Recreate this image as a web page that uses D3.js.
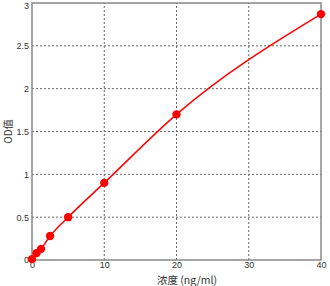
<!DOCTYPE html>
<html>
<head>
<meta charset="utf-8">
<script src="https://cdn.jsdelivr.net/npm/d3@7"></script>
<style>
  body { margin: 0; background: #fff; }
  svg { display: block; font-family: "Liberation Sans", Arial, sans-serif; }
  .tick text { fill: #333; font-size: 9px; }
  .grid line { stroke: #666; stroke-dasharray: 2,2; stroke-width: 1; }
</style>
</head>
<body>
<div id="chart"></div>
<script>
// standard curve: concentration (ng/ml) vs OD
const conc = [0, 0.625, 1.25, 2.5, 5, 10, 20, 40];
const od = [0.01, 0.08, 0.13, 0.28, 0.5, 0.9, 1.7, 2.87];
const xTicks = [0, 10, 20, 30, 40];
const yTicks = [0, 0.5, 1, 1.5, 2, 2.5, 3];

const w = 330;
const h = 286;
const margin = { left: 32, top: 3, right: 9, bottom: 26 };

const svg = d3.select('#chart')
  .append('svg')
  .attr('width', w)
  .attr('height', h);

const xScale = d3.scaleLinear()
  .domain([0, 40])
  .range([margin.left, w - margin.right]);
const yScale = d3.scaleLinear()
  .domain([0, 3])
  .range([h - margin.bottom, margin.top]);

// dotted gridlines
svg.append('g')
  .attr('class', 'grid')
  .selectAll('line.gx')
  .data(xTicks.slice(1, -1))
  .join('line')
  .attr('x1', (d) => xScale(d))
  .attr('x2', (d) => xScale(d))
  .attr('y1', yScale(0))
  .attr('y2', yScale(3));

svg.append('g')
  .attr('class', 'grid')
  .selectAll('line.gy')
  .data(yTicks.slice(1, -1))
  .join('line')
  .attr('x1', xScale(0))
  .attr('x2', xScale(40))
  .attr('y1', (d) => yScale(d))
  .attr('y2', (d) => yScale(d));

// axes
const xAxis = d3.axisBottom(xScale).tickValues(xTicks).tickSize(0).tickPadding(2);
const yAxis = d3.axisLeft(yScale).tickValues(yTicks).tickSize(0).tickPadding(3)
  .tickFormat(d3.format('~g'));

svg.append('g')
  .attr('transform', `translate(0,${yScale(0)})`)
  .call(xAxis)
  .call((g) => g.select('.domain').remove());
svg.append('g')
  .attr('transform', `translate(${xScale(0)},0)`)
  .call(yAxis)
  .call((g) => g.select('.domain').remove())
  // keep the top label inside the window
  .call((g) => g.selectAll('.tick text').filter((d) => d === 3).attr('dy', '0.6em'));

// frame
svg.append('rect')
  .attr('x', xScale(0))
  .attr('y', yScale(3))
  .attr('width', xScale(40) - xScale(0))
  .attr('height', yScale(0) - yScale(3))
  .attr('fill', 'none')
  .attr('stroke', '#888')
  .attr('stroke-width', 1.5);

// fitted curve
const points = conc.map((c, i) => [c, od[i]]);
svg.append('path')
  .datum(points)
  .attr('fill', 'none')
  .attr('stroke', '#f00')
  .attr('stroke-width', 1.5)
  .attr('d', d3.line()
    .curve(d3.curveMonotoneX)
    .x((d) => xScale(d[0]))
    .y((d) => yScale(d[1])));

svg.append('g')
  .selectAll('circle')
  .data(points)
  .join('circle')
  .attr('cx', (d) => xScale(d[0]))
  .attr('cy', (d) => yScale(d[1]))
  .attr('r', 4.2)
  .attr('fill', '#f00');

// axis labels
svg.append('text')
  .attr('x', 187)
  .attr('y', h - 2)
  .attr('text-anchor', 'middle')
  .attr('font-size', 10.5)
  .attr('font-family', '"Noto Sans CJK SC", sans-serif')
  .attr('fill', '#333')
  .text('浓度 (ng/ml)');

svg.append('text')
  .attr('transform', `translate(12,${(yScale(0) + yScale(3)) / 2}) rotate(-90)`)
  .attr('text-anchor', 'middle')
  .attr('font-size', 10)
  .attr('font-family', '"Noto Sans CJK SC", sans-serif')
  .attr('fill', '#333')
  .text('OD值');
</script>
</body>
</html>
